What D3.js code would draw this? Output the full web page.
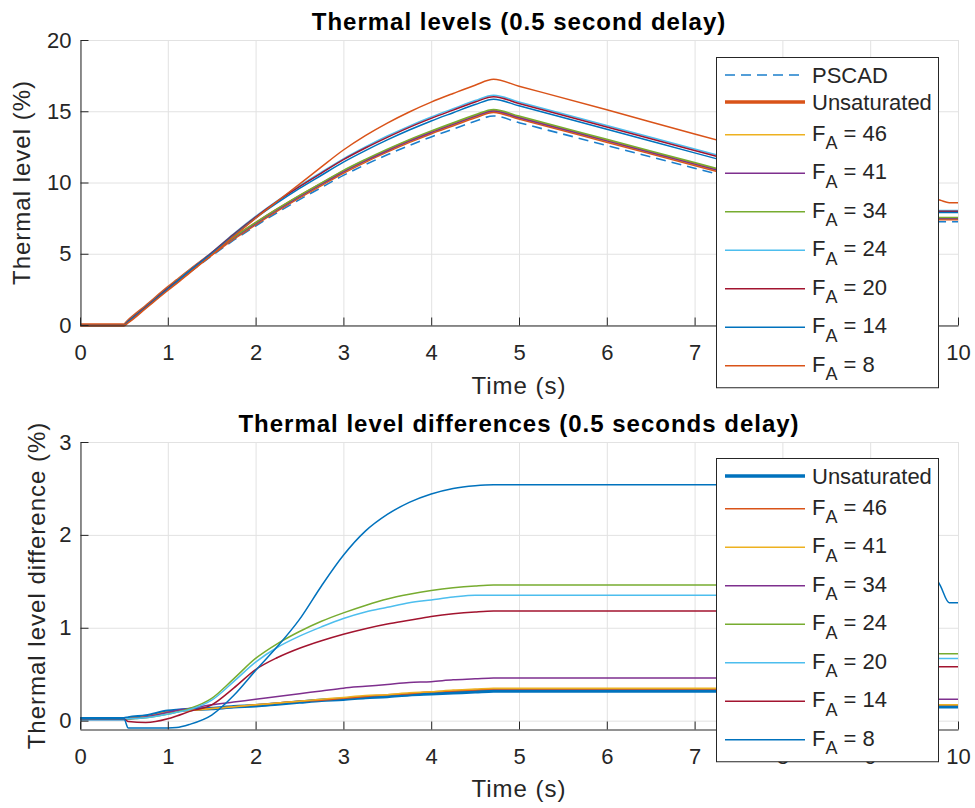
<!DOCTYPE html>
<html><head><meta charset="utf-8">
<script src="https://cdn.jsdelivr.net/npm/d3@7"></script>
<style>
html,body{margin:0;padding:0;background:#fff;}
svg{display:block;font-family:"Liberation Sans",Arial,Helvetica,sans-serif;}
</style></head><body>
<svg id="chart" width="975" height="808"></svg>
<script>
// ---------------- DATA ----------------
const time = [0, 0.5, 0.55, 0.75, 1, 1.1, 1.25, 1.5, 1.75, 2, 2.25, 2.5, 2.75, 3, 3.25, 3.5, 3.75, 4, 4.25, 4.5, 4.71, 5, 6, 7, 8, 9, 9.2, 9.4, 9.6, 9.8, 9.9, 10];

// Thermal levels (%)
const pscadLevel = [0, 0, 0.25, 1.25, 2.5, 2.98, 3.7, 4.85, 5.95, 6.95, 7.9, 8.8, 9.65, 10.5, 11.25, 11.95, 12.6, 13.2, 13.75, 14.3, 14.67, 14.2, 12.6, 11.0, 9.4, 7.8, 7.48, 7.25, 7.25, 7.25, 7.25, 7.25];
const unsatLevel = [0, 0, 0.28, 1.3, 2.6, 3.09, 3.82, 4.98, 6.1, 7.11, 8.08, 9.0, 9.87, 10.73, 11.5, 12.21, 12.88, 13.49, 14.05, 14.61, 14.99, 14.52, 12.89, 11.26, 9.63, 8.0, 7.68, 7.45, 7.45, 7.45, 7.45, 7.45];
const fa46Level = [0, 0, 0.27, 1.29, 2.59, 3.08, 3.81, 4.98, 6.1, 7.12, 8.09, 9.01, 9.87, 10.74, 11.51, 12.23, 12.89, 13.51, 14.07, 14.63, 15.01, 14.54, 12.91, 11.28, 9.65, 8.02, 7.7, 7.47, 7.47, 7.47, 7.47, 7.47];
const fa41Level = [0, 0, 0.27, 1.29, 2.59, 3.08, 3.81, 4.98, 6.1, 7.12, 8.09, 9.01, 9.88, 10.75, 11.52, 12.23, 12.9, 13.51, 14.08, 14.64, 15.02, 14.55, 12.92, 11.29, 9.66, 8.03, 7.71, 7.48, 7.48, 7.48, 7.48, 7.48];
const fa34Level = [0, 0, 0.27, 1.29, 2.59, 3.09, 3.83, 5.02, 6.15, 7.18, 8.16, 9.09, 9.97, 10.85, 11.62, 12.34, 13.01, 13.62, 14.19, 14.75, 15.13, 14.66, 13.03, 11.4, 9.77, 8.14, 7.82, 7.54, 7.54, 7.54, 7.54, 7.54];
const fa24Level = [0, 0, 0.27, 1.28, 2.57, 3.07, 3.83, 5.09, 6.4, 7.62, 8.73, 9.76, 10.72, 11.66, 12.49, 13.26, 13.96, 14.6, 15.18, 15.75, 16.12, 15.65, 14.0, 12.35, 10.7, 9.05, 8.72, 8.4, 8.05, 8.03, 8.03, 8.03];
const fa20Level = [0, 0, 0.27, 1.28, 2.57, 3.07, 3.82, 5.07, 6.37, 7.58, 8.69, 9.71, 10.66, 11.6, 12.42, 13.17, 13.87, 14.5, 15.08, 15.65, 16.02, 15.55, 13.9, 12.25, 10.6, 8.95, 8.62, 8.3, 7.98, 7.98, 7.98, 7.98];
const fa14Level = [0, 0, 0.24, 1.23, 2.52, 3.03, 3.8, 5.02, 6.3, 7.5, 8.58, 9.58, 10.51, 11.43, 12.24, 12.99, 13.68, 14.32, 14.9, 15.47, 15.85, 15.38, 13.73, 12.08, 10.43, 8.78, 8.45, 8.12, 7.89, 7.89, 7.89, 7.89];
const fa8Level  = [0, 0, 0.17, 1.17, 2.42, 2.9, 3.66, 4.91, 6.22, 7.49, 8.7, 9.89, 11.1, 12.28, 13.29, 14.17, 14.95, 15.64, 16.25, 16.83, 17.24, 16.76, 15.1, 13.4, 11.75, 10.1, 9.75, 9.45, 9.1, 8.75, 8.58, 8.58];

// Thermal level differences (%)
const unsatDiff = [0.02, 0.02, 0.03, 0.05, 0.1, 0.11, 0.12, 0.13, 0.15, 0.16, 0.18, 0.2, 0.22, 0.23, 0.25, 0.26, 0.28, 0.29, 0.3, 0.31, 0.32, 0.32, 0.32, 0.32, 0.32, 0.32, 0.32, 0.15, 0.15, 0.15, 0.15, 0.15];
const fa46Diff = [0.02, 0.02, 0.02, 0.04, 0.09, 0.1, 0.11, 0.13, 0.15, 0.17, 0.19, 0.21, 0.22, 0.24, 0.26, 0.28, 0.29, 0.31, 0.32, 0.33, 0.34, 0.34, 0.34, 0.34, 0.34, 0.34, 0.34, 0.17, 0.17, 0.17, 0.17, 0.17];
const fa41Diff = [0.02, 0.02, 0.02, 0.04, 0.09, 0.1, 0.11, 0.13, 0.15, 0.17, 0.19, 0.21, 0.23, 0.25, 0.27, 0.28, 0.3, 0.31, 0.33, 0.34, 0.35, 0.35, 0.35, 0.35, 0.35, 0.35, 0.35, 0.17, 0.17, 0.17, 0.17, 0.17];
const fa34Diff = [0.02, 0.02, 0.02, 0.04, 0.09, 0.11, 0.13, 0.17, 0.2, 0.23, 0.26, 0.29, 0.32, 0.35, 0.37, 0.39, 0.41, 0.42, 0.44, 0.45, 0.46, 0.46, 0.46, 0.46, 0.46, 0.46, 0.46, 0.23, 0.23, 0.23, 0.23, 0.23];
const fa24Diff = [0.02, 0.02, 0.02, 0.03, 0.07, 0.09, 0.13, 0.24, 0.45, 0.67, 0.83, 0.96, 1.07, 1.16, 1.24, 1.31, 1.36, 1.4, 1.43, 1.45, 1.46, 1.46, 1.46, 1.46, 1.46, 1.46, 1.46, 1.12, 0.77, 0.72, 0.72, 0.72];
const fa20Diff = [0.02, 0.02, 0.02, 0.03, 0.07, 0.09, 0.12, 0.22, 0.42, 0.63, 0.79, 0.91, 1.01, 1.1, 1.17, 1.22, 1.27, 1.3, 1.33, 1.35, 1.35, 1.35, 1.35, 1.35, 1.35, 1.35, 1.35, 1.01, 0.68, 0.67, 0.67, 0.67];
const fa14Diff = [0.02, 0.02, -0.01, -0.02, 0.02, 0.05, 0.1, 0.17, 0.35, 0.55, 0.68, 0.78, 0.86, 0.93, 0.99, 1.04, 1.08, 1.12, 1.15, 1.17, 1.18, 1.18, 1.18, 1.18, 1.18, 1.18, 1.18, 0.84, 0.58, 0.58, 0.58, 0.58];
const fa8Diff  = [0.02, 0.02, -0.08, -0.08, -0.08, -0.075, -0.04, 0.06, 0.27, 0.54, 0.8, 1.09, 1.45, 1.78, 2.04, 2.22, 2.35, 2.44, 2.5, 2.53, 2.54, 2.54, 2.54, 2.54, 2.54, 2.54, 2.5, 2.15, 1.8, 1.45, 1.27, 1.27];

const topLabels = ["PSCAD", "Unsaturated", "F_A = 46", "F_A = 41", "F_A = 34", "F_A = 24", "F_A = 20", "F_A = 14", "F_A = 8"];
const bottomLabels = ["Unsaturated", "F_A = 46", "F_A = 41", "F_A = 34", "F_A = 24", "F_A = 20", "F_A = 14", "F_A = 8"];

const xTicks = [0, 1, 2, 3, 4, 5, 6, 7, 8, 9, 10];
const topYTicks = [0, 5, 10, 15, 20];
const bottomYTicks = [0, 1, 2, 3];

const topTitle = "Thermal levels (0.5 second delay)";
const bottomTitle = "Thermal level differences (0.5 seconds delay)";
const xLabel = "Time (s)";
const topYLabel = "Thermal level (%)";
const bottomYLabel = "Thermal level difference (%)";

// MATLAB default colour order
const C = {blue:"#0072BD", orange:"#D95319", yellow:"#EDB120", purple:"#7E2F8E", green:"#77AC30", light:"#4DBEEE", red:"#A2142F"};

const topSeries = [
  {label: topLabels[0], values: pscadLevel, color: "#1b7fcc", width: 1.6, dash: "10,6"},
  {label: topLabels[1], values: unsatLevel, color: C.orange, width: 3.5},
  {label: topLabels[2], values: fa46Level, color: C.yellow, width: 1.5},
  {label: topLabels[3], values: fa41Level, color: C.purple, width: 1.5},
  {label: topLabels[4], values: fa34Level, color: C.green, width: 1.5},
  {label: topLabels[5], values: fa24Level, color: C.light, width: 1.5},
  {label: topLabels[6], values: fa20Level, color: C.red, width: 1.5},
  {label: topLabels[7], values: fa14Level, color: C.blue, width: 1.5},
  {label: topLabels[8], values: fa8Level, color: C.orange, width: 1.5}
];
const bottomSeries = [
  {label: bottomLabels[0], values: unsatDiff, color: C.blue, width: 3.5},
  {label: bottomLabels[1], values: fa46Diff, color: C.orange, width: 1.5},
  {label: bottomLabels[2], values: fa41Diff, color: C.yellow, width: 1.5},
  {label: bottomLabels[3], values: fa34Diff, color: C.purple, width: 1.5},
  {label: bottomLabels[4], values: fa24Diff, color: C.green, width: 1.5},
  {label: bottomLabels[5], values: fa20Diff, color: C.light, width: 1.5},
  {label: bottomLabels[6], values: fa14Diff, color: C.red, width: 1.5},
  {label: bottomLabels[7], values: fa8Diff, color: C.blue, width: 1.5}
];

// ---------------- DRAW ----------------
const svg = d3.select("#chart");
const AX = "#262626";
const x = d3.scaleLinear().domain([0, 10]).range([80, 958]);

function panel(cfg, idx) {
  const y = d3.scaleLinear().domain(cfg.yDomain).range([cfg.bottom, cfg.top]);
  const g = svg.append("g");

  // grid
  g.append("g").selectAll("line.gx").data(xTicks).join("line").attr("class", "gx")
    .attr("x1", d => x(d) + 0.5).attr("x2", d => x(d) + 0.5)
    .attr("y1", cfg.top).attr("y2", cfg.bottom)
    .attr("stroke", "#e2e2e2").attr("stroke-width", 1);
  g.append("g").selectAll("line.gy").data(cfg.yTicks).join("line").attr("class", "gy")
    .attr("x1", x(0)).attr("x2", x(10))
    .attr("y1", d => y(d) + 0.5).attr("y2", d => y(d) + 0.5)
    .attr("stroke", "#e2e2e2").attr("stroke-width", 1);

  // clip
  const cid = "clip" + idx;
  svg.append("defs").append("clipPath").attr("id", cid).append("rect")
    .attr("x", x(0) - 2).attr("y", cfg.top - 2)
    .attr("width", x(10) - x(0) + 4).attr("height", cfg.bottom - cfg.top + 4);

  // lines
  const line = d3.line().x((d, i) => x(time[i])).y(d => y(d)).curve(d3.curveMonotoneX);
  const lg = g.append("g").attr("clip-path", `url(#${cid})`);
  cfg.series.forEach(s => {
    lg.append("path").attr("d", line(s.values)).attr("fill", "none")
      .attr("stroke", s.color).attr("stroke-width", s.width)
      .attr("stroke-dasharray", s.dash || null)
      .attr("stroke-linejoin", "round");
  });

  // axes
  const xa = g.append("g").attr("transform", `translate(0,${cfg.bottom + 0.5})`)
    .call(d3.axisBottom(x).tickValues(xTicks).tickFormat(d3.format("d"))
      .tickSizeInner(-8).tickSizeOuter(0).tickPadding(19));
  const ya = g.append("g").attr("transform", `translate(${x(0) + 0.5},0)`)
    .call(d3.axisLeft(y).tickValues(cfg.yTicks).tickFormat(d3.format("d"))
      .tickSizeInner(-8).tickSizeOuter(0).tickPadding(9));
  [xa, ya].forEach(a => {
    a.attr("font-family", null).attr("font-size", 22);
    a.selectAll("path.domain").attr("stroke", AX).attr("stroke-width", 1);
    a.selectAll(".tick line").attr("stroke", AX).attr("stroke-width", 1);
    a.selectAll(".tick text").attr("fill", AX);
  });

  // title & labels
  svg.append("text").attr("x", 519).attr("y", cfg.titleY).attr("text-anchor", "middle")
    .attr("font-size", 24).attr("font-weight", "bold").attr("letter-spacing", 1)
    .attr("fill", "#000").text(cfg.title);
  svg.append("text").attr("x", 519).attr("y", cfg.xLabelY).attr("text-anchor", "middle")
    .attr("font-size", 24).attr("letter-spacing", 1).attr("fill", AX).text(xLabel);
  svg.append("text").attr("transform", `translate(${cfg.yLabelX},${(cfg.top + cfg.bottom) / 2}) rotate(-90)`)
    .attr("text-anchor", "middle").attr("font-size", 24).attr("letter-spacing", 1)
    .attr("fill", AX).text(cfg.yLabel);

  // legend
  const hPlain = 27, hSub = 38.5;
  const hs = cfg.series.map(s => s.label.includes("_") ? hSub : hPlain);
  const centers = [];
  let c = cfg.legTop + 18;
  hs.forEach((h, i) => { if (i > 0) c += (hs[i - 1] + h) / 2; centers.push(c); });
  const legBottom = centers[centers.length - 1] + 21.5;
  const leg = svg.append("g");
  leg.append("rect").attr("x", 716.5).attr("y", cfg.legTop + 0.5)
    .attr("width", 222).attr("height", legBottom - cfg.legTop)
    .attr("fill", "#fff").attr("stroke", AX).attr("stroke-width", 1);
  cfg.series.forEach((s, i) => {
    const cy = centers[i];
    leg.append("line").attr("x1", 725).attr("x2", 805).attr("y1", cy).attr("y2", cy)
      .attr("stroke", s.color).attr("stroke-width", s.width)
      .attr("stroke-dasharray", s.dash || null);
    const t = leg.append("text").attr("x", 812).attr("font-size", 22).attr("fill", AX);
    if (s.label.includes("_")) {
      const [main, restAll] = s.label.split("_");
      t.attr("y", cy + 6);
      t.append("tspan").text(main);
      t.append("tspan").attr("dy", 8.3).attr("font-size", 18).text(restAll[0]);
      t.append("tspan").attr("dy", -8.3).text(restAll.slice(1));
    } else {
      t.attr("y", cy + 8).text(s.label);
    }
  });
}

panel({top: 40, bottom: 325, yDomain: [0, 20], yTicks: topYTicks, series: topSeries,
  title: topTitle, titleY: 30, xLabelY: 394, yLabel: topYLabel, yLabelX: 30, legTop: 57}, 0);
panel({top: 442, bottom: 729, yDomain: [-0.09, 3], yTicks: bottomYTicks, series: bottomSeries,
  title: bottomTitle, titleY: 432, xLabelY: 797, yLabel: bottomYLabel, yLabelX: 45, legTop: 458}, 1);
</script>
</body></html>
